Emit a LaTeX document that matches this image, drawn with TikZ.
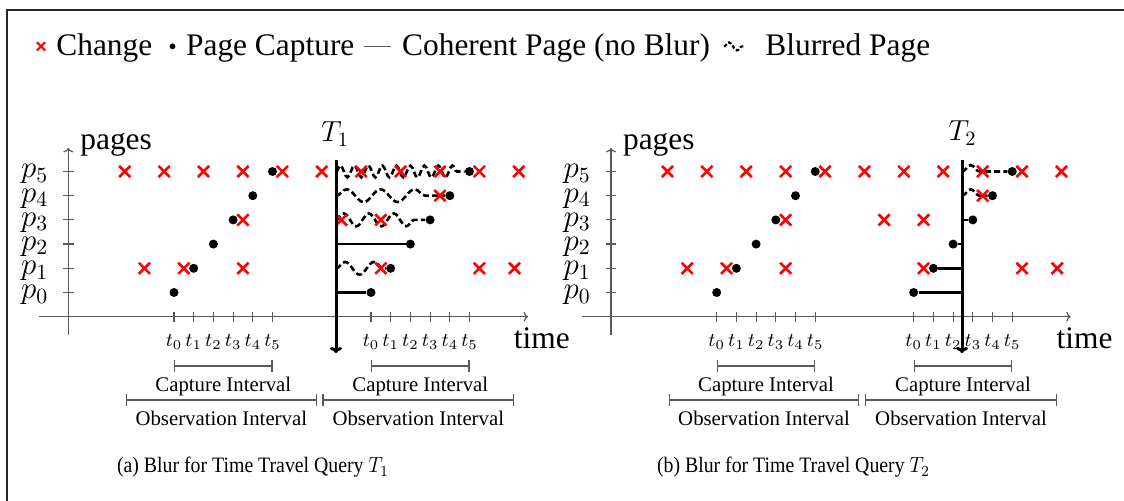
\documentclass[tikz,border=0pt]{standalone}
\usepackage[no-math]{fontspec}
\setmainfont{Liberation Serif}
% scalable Computer Modern for math letters and subscript digits
\DeclareFontShape{OML}{cmm}{m}{it}{<-6>cmmi5<6-7>cmmi6<7-8>cmmi7<8-9>cmmi8<9-10>cmmi9<10-12>cmmi10<12->cmmi12}{}
\DeclareFontShape{OT1}{cmr}{m}{n}{<-6>cmr5<6-7>cmr6<7-8>cmr7<8-9>cmr8<9-10>cmr9<10-12>cmr10<12-17>cmr12<17->cmr17}{}
\usetikzlibrary{arrows.meta,shapes.misc,decorations.pathmorphing,backgrounds}

\definecolor{axisgray}{gray}{0.35}
\definecolor{framegray}{gray}{0.15}
\definecolor{chgred}{rgb}{1,0,0}

\tikzset{
  axisline/.style={draw=axisgray, line width=0.6pt},
  axisarrow/.style={axisline, -{To[length=2.2pt,width=5pt]}},
  bigtext/.style={font=\fontsize{15.7pt}{18pt}\selectfont, inner sep=0pt},
  plabel/.style={font=\fontsize{15.5pt}{18pt}\selectfont, inner sep=0pt},
  qlabel/.style={font=\fontsize{14.5pt}{17pt}\selectfont, inner sep=0pt},
  tlabel/.style={font=\fontsize{9.7pt}{12pt}\selectfont, inner sep=0pt},
  intlabel/.style={font=\fontsize{10.4pt}{12pt}\selectfont, inner sep=0pt},
  captext/.style={font=\fontsize{11pt}{13pt}\selectfont, inner sep=0pt},
  chgmark/.style={cross out, draw=chgred, line width=1.3pt, minimum size=4.3pt, inner sep=0pt},
  capdot/.style={circle, fill=black, inner sep=0pt, minimum size=4.5pt},
  qline/.style={line width=1.5pt, -{To[length=3pt,width=6pt]}},
  coherent/.style={line width=1.3pt},
  blurline/.style={line width=1.3pt, dash pattern=on 3pt off 1.6pt, decorate},
  intbar/.style={draw=axisgray, line width=0.6pt, {Bar[width=6.3pt]}-{Bar[width=6.3pt]}},
}

% one page-capture panel: axes, changes, captures and the two intervals
\newcommand\pagepanel[1]{%
  \coordinate (#1ybot) at (68.3,335);
  \coordinate (#1ytop) at (68.3,148);
  \coordinate (#1xlft) at (39,316.7);
  \coordinate (#1xrgt) at (528,316.7);
  \draw[axisarrow] (#1ybot) -- (#1ytop);
  \draw[axisarrow] (#1xlft) -- (#1xrgt);
  \node[bigtext, anchor=base west] (#1pages) at (80,150) {pages};
  \node[bigtext, anchor=base west] (#1time) at (513.5,349) {time};
  \foreach \k/\y/\a/\b in {0/292.5/174/371, 1/268.3/193.7/390.7, 2/244.1/213.4/410.4,
                           3/219.9/233.1/430.1, 4/195.7/252.8/449.8, 5/171.5/272.5/469.5}{
    \draw[axisline] (63,\y) -- (73.6,\y);
    \node[plabel, anchor=base east] (#1p\k) at (48.5,{\y+6.5}) {$p_{\k}$};
    \draw[axisline] (\a,311.7) -- (\a,321.7);
    \draw[axisline] (\b,311.7) -- (\b,321.7);
    \node[tlabel, anchor=base] (#1ta\k) at (\a,347) {$t_{\k}$};
    \node[tlabel, anchor=base] (#1tb\k) at (\b,347) {$t_{\k}$};
  }
  % page changes
  \foreach \x/\y [count=\i] in {124.75/171.5, 164.15/171.5, 203.55/171.5, 242.95/171.5,
      282.35/171.5, 321.75/171.5, 361.15/171.5, 400.55/171.5, 439.95/171.5, 479.35/171.5,
      518.75/171.5, 439.95/195.7, 242.95/219.9, 341.45/219.9, 380.85/219.9,
      144.45/268.3, 183.85/268.3, 242.95/268.3, 380.85/268.3, 479.35/268.3, 514.5/268.3}{
    \node[chgmark] (#1c\i) at (\x,\y) {};
  }
  % page captures of the two crawls
  \foreach \k/\y/\a/\b in {0/292.5/174/371, 1/268.3/193.7/390.7, 2/244.1/213.4/410.4,
                           3/219.9/233.1/430.1, 4/195.7/252.8/449.8, 5/171.5/272.5/469.5}{
    \node[capdot] (#1da\k) at (\a,\y) {};
    \node[capdot] (#1db\k) at (\b,\y) {};
  }
  % capture and observation intervals
  \coordinate (#1ca0) at (174,366);    \coordinate (#1ca1) at (272.5,366);
  \coordinate (#1cb0) at (371,366);    \coordinate (#1cb1) at (469.5,366);
  \coordinate (#1oa0) at (126,400);    \coordinate (#1oa1) at (316.7,400);
  \coordinate (#1ob0) at (322.3,400);  \coordinate (#1ob1) at (514.3,400);
  \draw[intbar] (#1ca0) -- (#1ca1);
  \draw[intbar] (#1cb0) -- (#1cb1);
  \draw[intbar] (#1oa0) -- (#1oa1);
  \draw[intbar] (#1ob0) -- (#1ob1);
  \node[intlabel, anchor=base] (#1cla) at (223.3,391.7) {Capture Interval};
  \node[intlabel, anchor=base] (#1clb) at (420.3,391.7) {Capture Interval};
  \node[intlabel, anchor=base] (#1ola) at (221.3,426) {Observation Interval};
  \node[intlabel, anchor=base] (#1olb) at (418.3,426) {Observation Interval};
}

\begin{document}
\begin{tikzpicture}[x=0.5pt,y=-0.5pt]
\useasboundingbox (0,0) rectangle (1124,501);

% frame
\draw[framegray, line width=0.7pt] (7.1,510) -- (7.1,10) -- (1130,10);

% legend
\node[chgmark, minimum size=3pt, line width=1.1pt] (lgc) at (41,46.4) {};
\node[bigtext, anchor=base west] (lgct) at (56,56) {Change};
\node[capdot, minimum size=2.9pt] (lgd) at (172.5,46.4) {};
\node[bigtext, anchor=base west] (lgdt) at (185.7,56) {Page Capture};
\coordinate (lgl0) at (364,46.4);
\coordinate (lgl1) at (391,46.4);
\draw[axisgray, line width=0.7pt] (lgl0) -- (lgl1);
\node[bigtext, anchor=base west] (lglt) at (401.8,56) {Coherent Page (no Blur)};
\coordinate (lgw0) at (724,46.4);
\coordinate (lgw1) at (745,46.4);
\draw[line width=1.1pt, dash pattern=on 1.8pt off 1pt, decorate,
      decoration={snake, segment length=8pt, amplitude=2pt}] (lgw0) -- (lgw1);
\node[bigtext, anchor=base west] (lgwt) at (765,56) {Blurred Page};

% panel (a): query T1
\pagepanel{a}
\coordinate (aTtop) at (336,160);
\coordinate (aTbot) at (336,353);
\node[qlabel, anchor=base] (aT) at (335,142) {$T_1$};
\foreach \k/\y in {0/292.5,1/268.3,2/244.1,3/219.9,4/195.7,5/171.5}{
  \coordinate (aq\k) at (336,\y);
}
\begin{pgfonlayer}{background}
  \draw[coherent] (aq0) -- (adb0);
  \draw[coherent] (aq2) -- (adb2);
  \draw[blurline, decoration={snake, segment length=14.5pt, amplitude=3.2pt}] (aq1) -- (adb1);
  \draw[blurline, decoration={snake, segment length=12.5pt, amplitude=3.2pt, post length=5pt}] (aq3) -- (adb3);
  \draw[blurline, decoration={snake, segment length=17pt, amplitude=3.2pt, post length=8.75pt}] (aq4) -- (adb4);
  \draw[blurline, decoration={snake, segment length=7pt, amplitude=3pt, post length=2.5pt}] (aq5) -- (adb5);
\end{pgfonlayer}
\draw[qline] (aTtop) -- (aTbot);
\node[captext, anchor=base] (capa) at (253,473) {\scalebox{0.9}[1]{(a) Blur for Time Travel Query $T_1$}};

% panel (b): query T2
\begin{scope}[xshift=271.35pt]
  \pagepanel{b}
  \coordinate (bTtop) at (419.3,160);
  \coordinate (bTbot) at (419.3,353);
  \node[qlabel, anchor=base] (bT) at (419.8,141) {$T_2$};
  \foreach \k/\y in {0/292.5,1/268.3,2/244.1,3/219.9,4/195.7,5/171.5}{
    \coordinate (bq\k) at (419.3,\y);
  }
  \begin{pgfonlayer}{background}
    \draw[coherent] (bdb0) -- (bq0);
    \draw[coherent] (bdb1) -- (bq1);
    \draw[coherent] (bdb2) -- (bq2);
    \draw[coherent] (bq3) -- (bdb3);
    \draw[blurline, decoration={snake, segment length=14pt, amplitude=3.2pt, post length=2pt}] (bq4) -- (bdb4);
    \draw[blurline, decoration={snake, segment length=14pt, amplitude=3.2pt, post length=12.5pt}] (bq5) -- (bdb5);
  \end{pgfonlayer}
  \draw[qline] (bTtop) -- (bTbot);
\end{scope}
\node[captext, anchor=base] (capb) at (793.5,473) {\scalebox{0.9}[1]{(b) Blur for Time Travel Query $T_2$}};
\end{tikzpicture}
\end{document}
